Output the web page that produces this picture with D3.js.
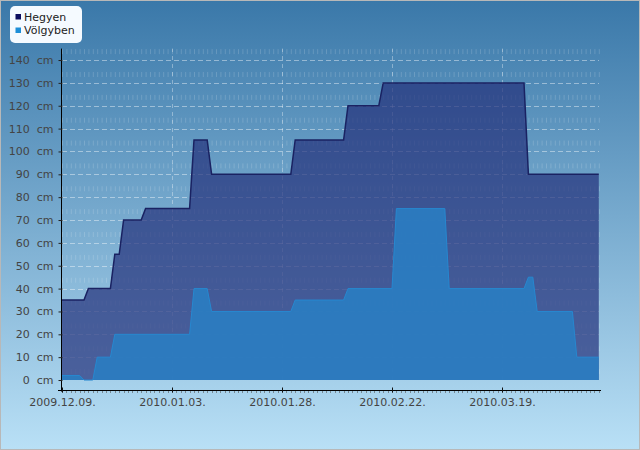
<!DOCTYPE html>
<html lang="hu">
<head>
<meta charset="UTF-8">
<title>Hóvastagság</title>
<script src="https://d3js.org/d3.v7.min.js"></script>
<style>
  body { margin: 0; }
  text { font-family: "DejaVu Sans", sans-serif; }
</style>
</head>
<body>
<script>
    // snow depth, only the points where the line bends
    var hegyenDates = ["2009-12-09", "2009-12-14", "2009-12-15", "2009-12-20", "2009-12-21", "2009-12-22",
        "2009-12-23", "2009-12-27", "2009-12-28", "2010-01-07", "2010-01-08", "2010-01-11", "2010-01-12",
        "2010-01-30", "2010-01-31", "2010-02-11", "2010-02-12", "2010-02-19", "2010-02-20", "2010-03-24",
        "2010-03-25", "2010-04-10"];
    var hegyenValues = [35, 35, 40, 40, 55, 55, 70, 70, 75, 75, 105, 105, 90, 90, 105, 105, 120, 120, 130, 130, 90, 90];

    var volgyDates = ["2009-12-09", "2009-12-13", "2009-12-14", "2009-12-16", "2009-12-17", "2009-12-20",
        "2009-12-21", "2010-01-07", "2010-01-08", "2010-01-11", "2010-01-12", "2010-01-30", "2010-01-31",
        "2010-02-11", "2010-02-12", "2010-02-22", "2010-02-23", "2010-03-06", "2010-03-07", "2010-03-24",
        "2010-03-25", "2010-03-26", "2010-03-27", "2010-04-04", "2010-04-05", "2010-04-10"];
    var volgyValues = [2, 2, 0, 0, 10, 10, 20, 20, 40, 40, 30, 30, 35, 35, 40, 40, 75, 75, 40, 40, 45, 45, 30, 30, 10, 10];

    var seriesNames = ["Hegyen", "Völgyben"];
    var xTickDates = ["2009-12-09", "2010-01-03", "2010-01-28", "2010-02-22", "2010-03-19"];
    var yTicks = [0, 10, 20, 30, 40, 50, 60, 70, 80, 90, 100, 110, 120, 130, 140];

    var width = 640, height = 450;
    var parse = d3.utcParse("%Y-%m-%d");
    var fmt = d3.utcFormat("%Y.%m.%d.");

    var svg = d3.select("body").append("svg")
        .attr("width", width)
        .attr("height", height);

    var defs = svg.append("defs");
    var bg = defs.append("linearGradient").attr("id", "bg")
        .attr("x1", 0).attr("y1", 0).attr("x2", 0).attr("y2", 1);
    bg.append("stop").attr("offset", "0%").attr("stop-color", "#3a78a9");
    bg.append("stop").attr("offset", "100%").attr("stop-color", "#b9e0f6");

    svg.append("rect")
        .attr("x", 0.5).attr("y", 0.5)
        .attr("width", width - 1).attr("height", height - 1)
        .attr("fill", "url(#bg)")
        .attr("stroke", "#b8b8b8");

    var x = d3.scaleUtc()
        .domain([parse("2009-12-09"), parse("2010-04-10")])
        .range([62, 598.8]);
    var y = d3.scaleLinear()
        .domain([-4.8, 145])
        .range([391, 48.6]);

    var days = d3.utcDay.range(x.domain()[0], d3.utcDay.offset(x.domain()[1], 1));

    var grid = svg.append("g");
    // faint daily dashes
    grid.selectAll("line.day")
        .data(days)
        .join("line")
        .attr("class", "day")
        .attr("x1", d => x(d) + 0.5).attr("x2", d => x(d) + 0.5)
        .attr("y1", y(0)).attr("y2", y(145))
        .attr("stroke", "#fff").attr("stroke-opacity", 0.16)
        .attr("stroke-dasharray", "5,17.86")
        .attr("stroke-dashoffset", 17);
    grid.selectAll("line.h")
        .data(yTicks.slice(1))
        .join("line")
        .attr("class", "h")
        .attr("x1", 62).attr("x2", 599)
        .attr("y1", d => Math.round(y(d)) + 0.5).attr("y2", d => Math.round(y(d)) + 0.5)
        .attr("stroke", "#fff").attr("stroke-opacity", 0.42)
        .attr("stroke-dasharray", "5,3");
    grid.selectAll("line.v")
        .data(xTickDates.slice(1).map(parse))
        .join("line")
        .attr("class", "v")
        .attr("x1", d => Math.round(x(d)) + 0.5).attr("x2", d => Math.round(x(d)) + 0.5)
        .attr("y1", y(0)).attr("y2", y(145))
        .attr("stroke", "#fff").attr("stroke-opacity", 0.35)
        .attr("stroke-dasharray", "4,4");

    function pts(dates, vals) {
        return dates.map((d, i) => ({ date: parse(d), v: vals[i] }));
    }
    var area = d3.area().x(d => x(d.date)).y0(y(0)).y1(d => y(d.v));
    var line = d3.line().x(d => x(d.date)).y(d => y(d.v));

    var heg = pts(hegyenDates, hegyenValues);
    var vol = pts(volgyDates, volgyValues);

    svg.append("path").attr("d", area(heg))
        .attr("fill", "#24307a").attr("fill-opacity", 0.7);
    svg.append("path").attr("d", line(heg))
        .attr("fill", "none").attr("stroke", "#1a2262").attr("stroke-width", 1.5);

    svg.append("path").attr("d", area(vol))
        .attr("fill", "#2a7dc2").attr("fill-opacity", 0.9);
    svg.append("path").attr("d", line(vol))
        .attr("fill", "none").attr("stroke", "#2688d0").attr("stroke-width", 1);

    // axes
    var yAxis = svg.append("g")
        .attr("transform", "translate(61.5,0)")
        .call(d3.axisLeft(y).tickValues(yTicks).tickSize(4).tickPadding(4)
            .tickFormat(d => d + "\u00a0\u00a0cm"));
    yAxis.select(".domain").attr("d", "M0," + y(145) + "V391.5").attr("stroke", "#000");
    yAxis.selectAll(".tick line").attr("x2", -3).attr("x1", 1).attr("stroke", "#222");
    yAxis.selectAll(".tick text")
        .attr("font-size", 11).attr("fill", "#444")
        .style("font-family", "DejaVu Sans, sans-serif");

    var xg = svg.append("g").attr("transform", "translate(0,390.5)");
    xg.append("line").attr("x1", 58).attr("x2", 601).attr("stroke", "#000");
    xg.selectAll("line.minor")
        .data(days)
        .join("line")
        .attr("class", "minor")
        .attr("x1", d => Math.round(x(d)) + 0.5).attr("x2", d => Math.round(x(d)) + 0.5)
        .attr("y1", 0.5).attr("y2", 2.5)
        .attr("stroke", "#555").attr("stroke-opacity", 0.6);
    var xAxis = xg.append("g")
        .call(d3.axisBottom(x).tickValues(xTickDates.map(parse)).tickSize(3).tickPadding(5).tickFormat(fmt));
    xAxis.select(".domain").remove();
    xAxis.selectAll(".tick line").attr("y1", -3).attr("y2", 2).attr("stroke", "#111");
    xAxis.selectAll(".tick text")
        .attr("font-size", 11).attr("fill", "#444")
        .style("font-family", "DejaVu Sans, sans-serif");

    // legend
    var lg = svg.append("g");
    lg.append("rect")
        .attr("x", 10).attr("y", 6).attr("width", 72).attr("height", 37)
        .attr("rx", 5).attr("fill", "#f5faff");
    var legColors = ["#0b0d5e", "#1e8fd8"];
    seriesNames.forEach(function (n, i) {
        lg.append("rect")
            .attr("x", 15.5).attr("y", 14 + i * 13.5)
            .attr("width", 5.5).attr("height", 5.5)
            .attr("fill", legColors[i]);
        lg.append("text")
            .attr("x", 24).attr("y", 20.7 + i * 13.3)
            .attr("font-size", 11).attr("fill", "#222")
            .text(n);
    });
</script>
</body>
</html>
